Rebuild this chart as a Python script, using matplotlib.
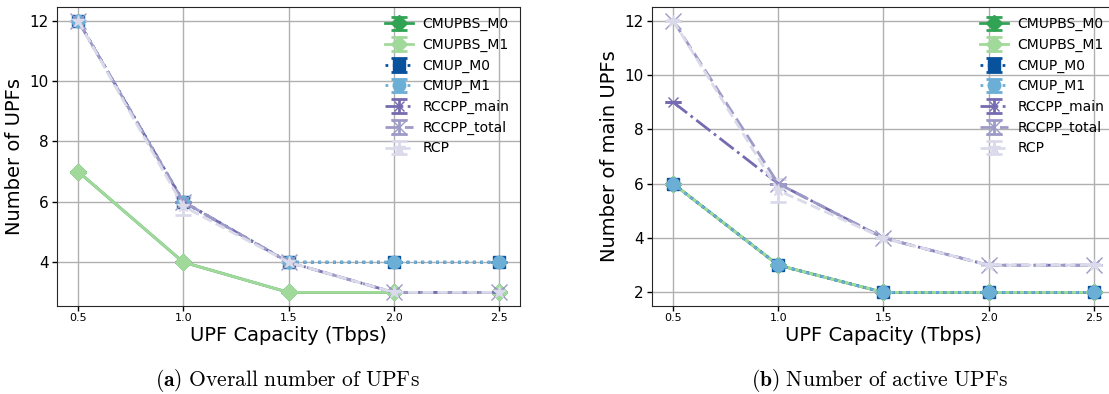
import matplotlib
matplotlib.use("Agg")
import matplotlib.pyplot as plt
import numpy as np

plt.rcParams['font.family'] = ['DejaVu Sans']
plt.rcParams['mathtext.fontset'] = 'cm'

capacity = [0.5, 1.0, 1.5, 2.0, 2.5]
xtick_labels = ["0.5", "1.0", "1.5", "2.0", "2.5"]

series_names = ["CMUPBS_M0", "CMUPBS_M1", "CMUP_M0", "CMUP_M1",
                "RCCPP_main", "RCCPP_total", "RCP"]

# (a) overall number of UPFs
overall_cmupbs_m0 = [7, 4, 3, 3, 3]
overall_cmupbs_m1 = [7, 4, 3, 3, 3]
overall_cmup_m0 = [12, 6, 4, 4, 4]
overall_cmup_m1 = [12, 6, 4, 4, 4]
overall_rccpp_main = [12, 6, 4, 3, 3]
overall_rccpp_total = [12, 6, 4, 3, 3]
overall_rcp = [12, 5.85, 4, 3, 3]
overall_rcp_err = [0, 0.3, 0, 0, 0]

# (b) number of active (main) UPFs
active_cmupbs_m0 = [6, 3, 2, 2, 2]
active_cmupbs_m1 = [6, 3, 2, 2, 2]
active_cmup_m0 = [6, 3, 2, 2, 2]
active_cmup_m1 = [6, 3, 2, 2, 2]
active_rccpp_main = [9, 6, 4, 3, 3]
active_rccpp_total = [12, 6, 4, 3, 3]
active_rcp = [12, 5.75, 4, 3, 3]
active_rcp_err = [0, 0.42, 0, 0, 0]

styles = {
    "CMUPBS_M0": dict(color="#31a354", marker="D", ls="-", ms=8),
    "CMUPBS_M1": dict(color="#a1d99b", marker="D", ls="-", ms=8),
    "CMUP_M0": dict(color="#08519c", marker="s", ls=":", ms=9),
    "CMUP_M1": dict(color="#6baed6", marker="o", ls=":", ms=9),
    "RCCPP_main": dict(color="#756bb1", marker="x", ls="-.", ms=7),
    "RCCPP_total": dict(color="#9e9ac8", marker="x", ls=(0, (5, 2)), ms=11),
    "RCP": dict(color="#dadaeb", marker="*", ls="--", ms=9),
}


def draw(ax, values, errors, ylabel):
    for name, vals, err in zip(series_names, values, errors):
        st = styles[name]
        ax.errorbar(capacity, vals, yerr=err, label=name, color=st["color"],
                    marker=st["marker"], linestyle=st["ls"], markersize=st["ms"],
                    linewidth=2, capsize=6, elinewidth=2, capthick=2)
    ax.set_xticks(capacity)
    ax.set_xticklabels(xtick_labels, fontsize=8)
    ax.tick_params(axis="y", labelsize=11, pad=2.5)
    ax.tick_params(axis="x", pad=1.5)
    ax.tick_params(direction="out", length=3.5, width=1)
    ax.grid(True, color="#b0b0b0", linewidth=1)
    ax.set_axisbelow(True)
    ax.set_xlabel("UPF Capacity (Tbps)", fontsize=14, labelpad=2)
    ax.set_ylabel(ylabel, fontsize=14)
    ax.legend(loc="upper right", fontsize=10, frameon=False,
              labelspacing=0.47, borderaxespad=0.35, handletextpad=0.7)
    for sp in ax.spines.values():
        sp.set_color("#262626")


fig = plt.figure(figsize=(11.09, 3.94), dpi=100)
ax1 = fig.add_axes([0.0514, 0.2234, 0.4175, 0.759])
ax2 = fig.add_axes([0.5879, 0.2234, 0.4175, 0.759])

zeros = [0, 0, 0, 0, 0]
draw(ax1,
     [overall_cmupbs_m0, overall_cmupbs_m1, overall_cmup_m0, overall_cmup_m1,
      overall_rccpp_main, overall_rccpp_total, overall_rcp],
     [zeros, zeros, zeros, zeros, zeros, zeros, overall_rcp_err],
     "Number of UPFs")
draw(ax2,
     [active_cmupbs_m0, active_cmupbs_m1, active_cmup_m0, active_cmup_m1,
      active_rccpp_main, active_rccpp_total, active_rcp],
     [zeros, zeros, zeros, zeros, zeros, zeros, active_rcp_err],
     "Number of main UPFs")

fig.text(0.259, 0.033, r"$(\mathbf{a})\ \mathrm{Overall\ number\ of\ UPFs}$",
         ha="center", va="center", fontsize=15.5)
fig.text(0.793, 0.033, r"$(\mathbf{b})\ \mathrm{Number\ of\ active\ UPFs}$",
         ha="center", va="center", fontsize=15.5)

fig.savefig("out.png", dpi=100)
